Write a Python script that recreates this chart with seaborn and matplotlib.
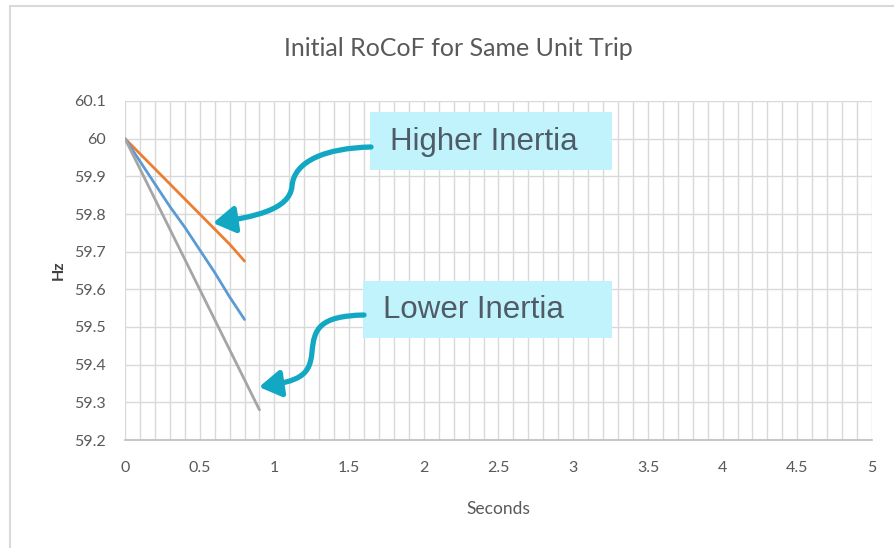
import numpy as np
import pandas as pd
import matplotlib
matplotlib.use("Agg")
import matplotlib.pyplot as plt
import seaborn as sns
from matplotlib.path import Path
from matplotlib.patches import FancyArrowPatch, Rectangle

# ---- data ----
t_short = [0.0, 0.1, 0.2, 0.3, 0.4, 0.5, 0.6, 0.7, 0.8]
t_long = [0.0, 0.1, 0.2, 0.3, 0.4, 0.5, 0.6, 0.7, 0.8, 0.9]
hz_higher = [60.0, 59.96, 59.92, 59.88, 59.84, 59.80, 59.76, 59.72, 59.675]
hz_mid = [60.0, 59.94, 59.88, 59.82, 59.765, 59.705, 59.645, 59.58, 59.52]
hz_lower = [60.0, 59.92, 59.84, 59.76, 59.68, 59.60, 59.52, 59.44, 59.36, 59.28]
series_names = ["Higher", "Mid", "Lower"]
title = "Initial RoCoF for Same Unit Trip"
x_label = "Seconds"
y_label = "Hz"
callout_high = "Higher Inertia"
callout_low = "Lower Inertia"

df = pd.concat([
    pd.DataFrame({"t": t_short, "hz": hz_higher, "s": series_names[0]}),
    pd.DataFrame({"t": t_short, "hz": hz_mid, "s": series_names[1]}),
    pd.DataFrame({"t": t_long, "hz": hz_lower, "s": series_names[2]}),
])

sns.set_theme(style="white")
plt.rcParams["font.family"] = ["Lato", "DejaVu Sans"]

W, H = 895, 548
fig = plt.figure(figsize=(W / 100, H / 100), dpi=100)
fig.patch.set_facecolor("white")

def fx(px):
    return px / W

def fy(py):
    return 1 - py / H

# outer chart border
fig.add_artist(Rectangle((fx(10), fy(560)), fx(900) - fx(10), fy(6) - fy(560),
                         transform=fig.transFigure, fill=False,
                         edgecolor="#D9D9D9", lw=1.5))

ax = fig.add_axes([fx(125), fy(440), fx(872) - fx(125), fy(101) - fy(440)])

palette = {"Higher": "#ED7D31", "Mid": "#5B9BD5", "Lower": "#A5A5A5"}
sns.lineplot(data=df, x="t", y="hz", hue="s", palette=palette, ax=ax,
             lw=2.0, legend=False, sort=False)

ax.set_xlim(0, 5)
ax.set_ylim(59.2, 60.1)
ax.set_xticks(np.arange(0, 5.01, 0.5))
ax.set_xticklabels(["0", "0.5", "1", "1.5", "2", "2.5", "3", "3.5", "4", "4.5", "5"])
ax.set_xticks(np.arange(0, 5.01, 0.1), minor=True)
ax.set_yticks(np.round(np.arange(59.2, 60.11, 0.1), 1))
ax.set_yticklabels(["59.2", "59.3", "59.4", "59.5", "59.6", "59.7", "59.8", "59.9", "60", "60.1"])
ax.grid(True, which="both", color="#D9D9D9", lw=1.0)
ax.set_axisbelow(True)
for side in ["top", "right", "left"]:
    ax.spines[side].set_visible(False)
ax.spines["bottom"].set_color("#BFBFBF")
ax.tick_params(axis="both", which="both", length=0, labelsize=11.5,
               labelcolor="#595959")
ax.tick_params(axis="x", pad=15)
ax.tick_params(axis="y", pad=14)
ax.set_xlabel(x_label, fontsize=12.5, color="#595959", labelpad=19)
ax.set_ylabel(y_label, fontsize=11.5, color="#404040", fontweight="bold", labelpad=6)

fig.text(fx(458), fy(48), title, ha="center", va="center", fontsize=18,
         color="#595959")

# callout boxes
box_col = "#C1F3FC"
for (x0, y0, x1, y1, txt, tx) in [(370, 112, 612, 170, callout_high, 390),
                                   (363, 281, 612, 338, callout_low, 383)]:
    fig.add_artist(Rectangle((fx(x0), fy(y1)), fx(x1) - fx(x0), fy(y0) - fy(y1),
                             transform=fig.transFigure, facecolor=box_col,
                             edgecolor="none", zorder=5))
    fig.text(fx(tx), fy((y0 + y1) / 2 + 1), txt, ha="left", va="center",
             fontsize=22.5, color="#4F5B66", family=["Liberation Sans"], zorder=6)

arrow_col = "#12A8C3"

def s_arrow(start, mid, tip):
    (sx, sy), (mx, my), (tx_, ty) = start, mid, tip
    verts = [(sx, sy), (sx - 45, sy + 1), (mx + 2, sy + 14), (mx, my),
             (mx - 2, my + 24), (tx_ + 40, ty - 6), (tx_, ty)]
    verts = [(fx(a), fy(b)) for a, b in verts]
    codes = [Path.MOVETO, Path.CURVE4, Path.CURVE4, Path.CURVE4,
             Path.CURVE4, Path.CURVE4, Path.CURVE4]
    p = FancyArrowPatch(path=Path(verts, codes),
                        arrowstyle="-|>,head_length=6.5,head_width=4",
                        lw=3.8, color=arrow_col, transform=fig.transFigure,
                        zorder=7, mutation_scale=2)
    fig.add_artist(p)

s_arrow((371, 147), (292, 186), (213, 223))
s_arrow((364, 315), (312, 352), (259, 387))

fig.savefig("out.png", dpi=100)
